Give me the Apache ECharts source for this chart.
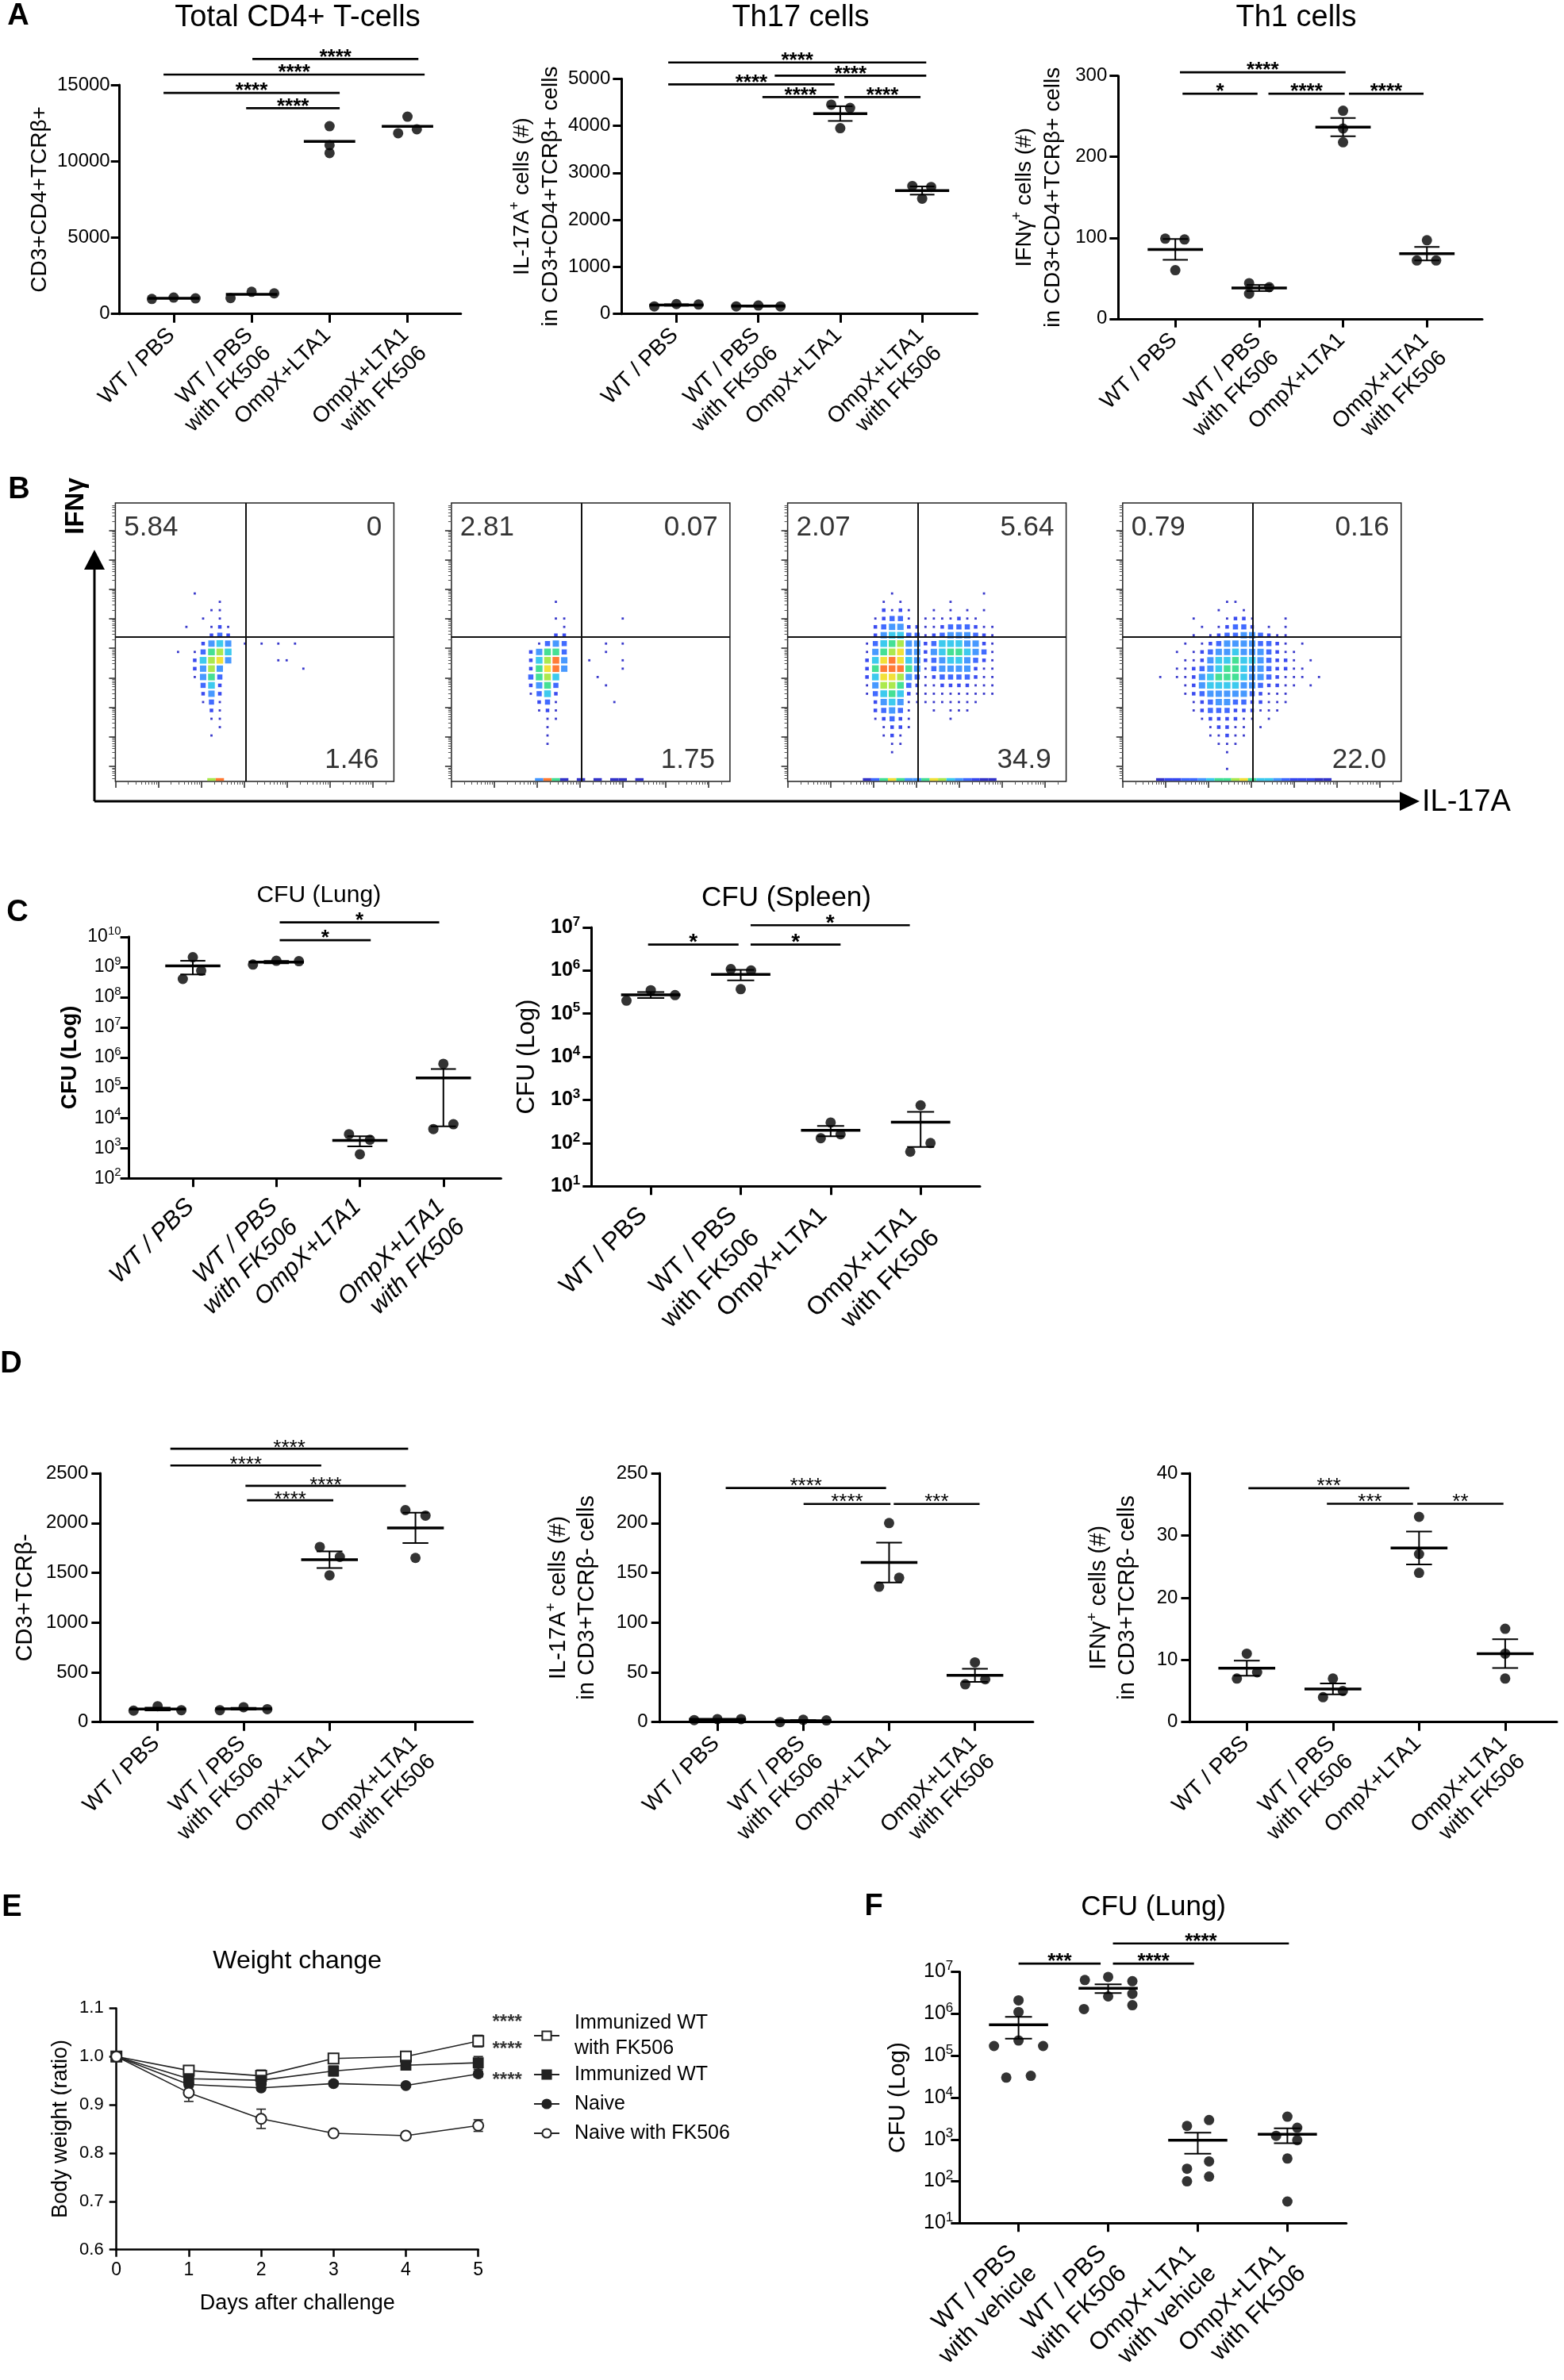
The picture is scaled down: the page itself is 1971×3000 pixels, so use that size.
<!DOCTYPE html>
<html><head><meta charset="utf-8">
<script src="https://cdn.jsdelivr.net/npm/echarts@6/dist/echarts.min.js"></script>
<style>html,body{margin:0;padding:0;background:#fff}#main{width:1971px;height:3000px}</style>
</head><body><div id="main"></div>
<script>
// ================= DATA =================
const groupsStd = ['WT / PBS', 'WT / PBS\nwith FK506', 'OmpX+LTA1', 'OmpX+LTA1\nwith FK506'];
const groupsVeh = ['WT / PBS\nwith vehicle', 'WT / PBS\nwith FK506', 'OmpX+LTA1\nwith vehicle', 'OmpX+LTA1\nwith FK506'];

// A - Total CD4+ T-cells
const cd4Total = [[980, 1070, 1020], [1040, 1450, 1350], [12300, 11060, 10540], [11840, 12920, 12100]];
const cd4TotalSig = [[2.01, 4.14, 16700, '****'], [0.87, 4.22, 15680, '****'], [0.87, 3.13, 14480, '****'], [1.93, 3.13, 13480, '****']];
// A - Th17
const th17 = [[160, 210, 200], [160, 180, 160], [4450, 4380, 3950], [2720, 2700, 2450]];
const th17Sig = [[0.90, 4.05, 5347, '****'], [0.90, 2.93, 4880, '****'], [2.20, 4.05, 5066, '****'], [2.05, 2.98, 4611, '****'], [3.05, 3.98, 4611, '****']];
// A - Th1
const th1 = [[99, 98, 60], [44, 39, 31], [257, 235, 218], [97, 72, 72]];
const th1Sig = [[1.055, 3.03, 304.5, '****'], [1.086, 1.98, 278, '*'], [2.11, 3.02, 278, '****'], [3.07, 3.96, 278, '****']];

// C - CFU
const cfuLung = [[2.1e9, 7.5e8, 4e8], [1.2e9, 1.6e9, 1.55e9], [2.9e3, 1.9e3, 6.3e2], [6.2e5, 4.3e3, 6.2e3]];
const cfuLungSig = [[2.04, 3.95, 3.0e10, '*'], [2.04, 3.13, 7.7e9, '*']];
const cfuSpleen = [[2.0e5, 3.5e5, 2.7e5], [1.08e6, 1.0e6, 3.7e5], [300, 130, 160], [750, 63, 100]];
const cfuSpleenSig = [[0.97, 1.976, 4e6, '*'], [2.11, 3.88, 1.12e7, '*'], [2.11, 3.11, 4e6, '*']];

// D - CD3+TCRb- cells
const cd3TcrNeg = [[115, 160, 120], [120, 150, 130], [1760, 1660, 1475], [2130, 2075, 1650]];
const cd3TcrNegSig = [[1.148, 3.915, 2747, '****'], [1.148, 2.904, 2579, '****'], [2.022, 3.888, 2374, '****'], [2.04, 3.044, 2229, '****']];
const il17Neg = [[2, 3, 3], [0, 2.3, 1.7], [200, 145, 136], [60, 38, 43]];
const il17NegSig = [[1.097, 2.965, 235.2, '****'], [2.004, 3.016, 219.2, '****'], [3.054, 4.054, 219.2, '***']];
const ifngNeg = [[11, 7, 8], [7, 4, 5], [33, 27, 24], [15, 11, 7]];
const ifngNegSig = [[1.019, 2.887, 37.6, '***'], [1.93, 2.93, 35.1, '***'], [2.98, 3.98, 35.1, '**']];

// F - CFU lung (vehicle / FK506)
const cfuLungF = [[2.1e6, 1.1e6, 1.7e5, 1.7e5, 2.3e5, 3.0e4, 3.3e4],
                  [6.4e6, 7.6e6, 6.0e6, 2.6e6, 1.3e6, 3.0e6, 1.6e6],
                  [2100, 2900, 200, 130, 100, 300],
                  [3500, 1220, 1900, 960, 350, 33]];
const cfuLungFSig = [[1.0, 1.916, 1.58e7, '***'], [2.053, 2.958, 1.58e7, '****'], [2.053, 4.017, 4.77e7, '****']];

// E - weight change
const weightDays = [0, 1, 2, 3, 4, 5];
const weightImmFK = [1.000, 0.971, 0.960, 0.996, 1.000, 1.032];
const weightImmFKSem = [0, 0.006, 0.012, 0.010, 0.008, 0.012];
const weightImm = [1.000, 0.954, 0.951, 0.970, 0.982, 0.987];
const weightImmSem = [0, 0.006, 0.006, 0.010, 0.005, 0.013];
const weightNaive = [1.000, 0.942, 0.935, 0.944, 0.940, 0.964];
const weightNaiveSem = [0, 0.005, 0.005, 0.005, 0.004, 0.006];
const weightNaiveFK = [1.000, 0.925, 0.871, 0.841, 0.836, 0.857];
const weightNaiveFKSem = [0, 0.018, 0.020, 0.005, 0.006, 0.012];
const weightSigLabels = ['****', '****', '****'];
const weightSigY = [1.071, 1.015, 0.951];

// B - flow cytometry: quadrant percentages (UL, UR, LR) and density rows (levels 0-9, 3-unit cells)
const flowQuadrantLabels = [['5.84', '0', '1.46'], ['2.81', '0.07', '1.75'], ['2.07', '5.64', '34.9'], ['0.79', '0.16', '22.0']];
const flow1Origin = [21, 66];
const flow1Rows = [
  '..1..............', '.....1...........', '....11...........', '...1.1...........',
  '.1..121..........', '....232..........', '...2454.1.1.1.1..', '1.13675..........',
  '..25784.....11...', '..2474.........1.', '..1463...........', '...352...........',
  '...242...........', '...131...........', '....21...........', '....11...........',
  '.....1...........', '....1............', '.................'];
const flow1AxisRow = '....79...........';
const flow2Origin = [21, 66];
const flow2Rows = [
  '.................', '.....1...........', '.................', '.....11......1...',
  '......1..........', '.....22..........', '...1343....1.1...', '..24663....1.....',
  '..25794..1...1...', '..26894......1...', '..3675....1......', '..2463.....1.....',
  '..1352...........', '...231......1....', '...121...........', '....11...........',
  '....1............', '....1............', '....1............'];
const flow2AxisRow = '...4961.1.1.11.1.';
const flow3Origin = [24, 66];
const flow3Rows = [
  '....1..........1..', '...1.1.....1......', '...2121..1.1.1.1..', '..12331.1111211...',
  '..234422112333211.', '..245533123444321.', '.1356744235554421.', '.1467844245665431.',
  '.2589854234554321.', '.2699964134444211.', '.2588743123333211.', '.1477632112222111.',
  '.1356521111111111.', '..2454111111111...', '..23431..1.111....', '..12321....1......',
  '...1221...........', '...121............', '....11............', '....1.............'];
const flow3AxisRow = '.1368644687543211..';
const flow4Origin = [12, 63];
const flow4Rows = [
  '........11...........', '.......1..1..........', '....1...1221...1.....', '.....1.12332.1.1.....',
  '....1.1233443211.....', '...1.12344443321.1...', '..1.1234454443211....', '...11245565543221.1..',
  '..1123456654432211...', '1.1124566654432111.1.', '...12455554432211.1..', '...1234444432111.....',
  '....123443322111.....', '....12333222111......', '.....1222211.1.......', '......12211.1........',
  '......11211..........', '.......111...........', '........1............', '.....................',
  '........1............'];
const flow4AxisRow = '122334566786554322211';

// ================= LAYOUT / STYLE =================
const FONT = '"Liberation Sans", Arial, Helvetica, sans-serif';
const INK = '#000000';
const MEAN_HALF = 0.33, CAP_HALF = 0.15;
const LAB_A = {size: 28, lh: 32, margin: 34, shift: 0.087};
const LAYOUT = {
  A1: {box: [150.7, 107.1, 430.1, 288.6], xr: [0.306, 4.685], nameGap: 74, nameSize: 28, tick: {size: 24, margin: 12}, lab: LAB_A, star: {size: 26, weight: 'bold', dy: -2}},
  A2: {box: [783.3, 99.3, 448.3, 296.4], xr: [0.33, 4.673], nameGap: 66, nameSize: 28, tick: {size: 24, margin: 14}, lab: LAB_A, star: {size: 26, weight: 'bold', dy: -2}},
  A3: {box: [1409.3, 95.7, 458.7, 306.1], xr: [0.32, 4.66], nameGap: 64, nameSize: 28, tick: {size: 24, margin: 14}, lab: LAB_A, star: {size: 26, weight: 'bold', dy: -2}},
  C1: {box: [162.6, 1180.8, 468.8, 304.5], xr: [0.236, 4.69], nameGap: 45, nameSize: 27, nameBold: true, tick: {size: 23, sup: 15, margin: 10}, lab: {size: 31, lh: 36, margin: 44, shift: 0.09, italic: true}, star: {size: 26, weight: 'bold', dy: -2}},
  C2: {box: [745.3, 1169, 489.7, 326.2], xr: [0.34, 4.66], nameGap: 63, nameSize: 31, tick: {size: 25, sup: 17, margin: 14, bold: true}, lab: {size: 32, lh: 40, margin: 46, shift: 0.04}, star: {size: 28, weight: 'bold', dy: -2}},
  D1: {box: [126.3, 1857.1, 469.3, 313.6], xr: [0.332, 4.665], nameGap: 76, nameSize: 29, tick: {size: 24, margin: 15}, lab: LAB_A, star: {size: 26, weight: 'normal', dy: 0}},
  D2: {box: [831.7, 1857.1, 470.2, 313.6], xr: [0.331, 4.677], nameGap: 74, nameSize: 29, tick: {size: 24, margin: 15}, lab: LAB_A, star: {size: 26, weight: 'normal', dy: -2}},
  D3: {box: [1499.4, 1857.1, 462.6, 313.6], xr: [0.338, 4.6], nameGap: 60, nameSize: 29, tick: {size: 24, margin: 15}, lab: LAB_A, star: {size: 26, weight: 'normal', dy: -2}},
  F:  {box: [1209.3, 2485.6, 487.4, 325.6], xr: [0.342, 4.658], nameGap: 60, nameSize: 30, tick: {size: 25, sup: 17, margin: 8}, lab: {size: 31, lh: 36, margin: 46, shift: 0.05}, star: {size: 26, weight: 'bold', dy: -2}}
};
// dot horizontal spread (beeswarm offsets in category units)
const JIT = {
  A1: [[-0.28, 0, 0.28], [-0.27, 0, 0.29], [0, 0, 0], [-0.12, 0, 0.12]],
  A2: [[-0.27, 0, 0.27], [-0.27, 0, 0.27], [-0.11, 0.12, 0], [-0.12, 0.11, 0]],
  A3: [[-0.12, 0.11, 0], [-0.12, 0.12, -0.12], [0, 0, 0], [0, -0.12, 0.11]],
  C1: [[0, 0.10, -0.12], [-0.28, 0, 0.27], [-0.13, 0.12, 0], [0, -0.12, 0.12]],
  C2: [[-0.27, 0, 0.27], [-0.11, 0.115, 0], [0, -0.11, 0.11], [0, -0.115, 0.11]],
  D1: [[-0.28, 0, 0.276], [-0.276, 0, 0.276], [-0.113, 0.12, 0], [-0.117, 0.117, 0]],
  D2: [[-0.27, 0, 0.276], [-0.27, 0, 0.27], [0, 0.117, -0.117], [0, -0.113, 0.12]],
  D3: [[0, -0.115, 0.12], [0, -0.115, 0.115], [0, 0, 0], [0, 0, 0]],
  F:  [[0, 0, -0.274, 0.274, 0, -0.137, 0.137], [-0.26, 0, 0.27, 0, -0.27, 0.27, 0.27], [-0.12, 0.126, -0.12, 0.126, -0.12, 0.126], [0, -0.126, 0.11, 0.11, 0, 0]]
};
const FLOW_LEFT = [145.4, 568.9, 992.6, 1414.8], FLOW_TOP = 634, FLOW_SIZE = 351;
const FLOW_QX = 46.7, FLOW_QY = 51.8, FLOW_CELL = 3, FLOW_AXIS_Y = 0.7;
const FLOW_LABEL_POS = [[3.1, 91.2], [95.7, 91.2], [94.6, 7.7]];
const FLOW_COLORS = ['rgba(0,0,0,0)', '#1d1dc4', '#1f32ee', '#2757ff', '#2e8bff', '#22c3ec', '#2bdc86', '#9fe636', '#f0dd1e', '#ff6a1a'];
const FLOW_SYM = [0, 2.8, 4.5, 6.5, 8, 8.5, 8.5, 8.5, 8.5, 8.5];
const FLOW_X_MAJOR = [0, 15.4, 30.8, 46.2, 61.6, 77, 92.4];
const FLOW_Y_MAJOR = [5.4, 16, 26.6, 37.2, 47.8, 58.4, 69, 79.6, 90.2];
function logMinors(majors, step) {
  const out = [];
  [majors[0] - step].concat(majors).forEach(s => {
    for (let k = 2; k <= 9; k++) { const v = s + step * Math.log10(k); if (v > 0.3 && v < 99.7) out.push(+v.toFixed(2)); }
  });
  return out;
}
const FLOW_X_MINOR = logMinors(FLOW_X_MAJOR, 15.4);
const FLOW_Y_MINOR = logMinors(FLOW_Y_MAJOR, 10.6);

// ================= BUILD =================
const grids = [], xAxes = [], yAxes = [], series = [], graphics = [];

function meanSem(vals) {
  const n = vals.length, m = vals.reduce((a, b) => a + b, 0) / n;
  const sd = Math.sqrt(vals.reduce((a, b) => a + (b - m) * (b - m), 0) / (n - 1));
  return [m, sd / Math.sqrt(n)];
}
function meanRenderer(showSem, yMin) {
  return function (params, api) {
    const x = api.value(0), m = api.value(1), hi = api.value(3);
    let lo = api.value(2);
    if (!(lo > yMin)) lo = yMin;
    const a = api.coord([x - MEAN_HALF, m]), b = api.coord([x + MEAN_HALF, m]);
    const kids = [{type: 'line', shape: {x1: a[0], y1: a[1], x2: b[0], y2: b[1]}, style: {stroke: INK, lineWidth: 3.5}}];
    if (showSem) {
      const t = api.coord([x, hi]), u = api.coord([x, lo]);
      const c1 = api.coord([x - CAP_HALF, hi]), c2 = api.coord([x + CAP_HALF, hi]);
      const d1 = api.coord([x - CAP_HALF, lo]), d2 = api.coord([x + CAP_HALF, lo]);
      kids.push({type: 'line', shape: {x1: t[0], y1: t[1], x2: u[0], y2: u[1]}, style: {stroke: INK, lineWidth: 2}});
      kids.push({type: 'line', shape: {x1: c1[0], y1: c1[1], x2: c2[0], y2: c2[1]}, style: {stroke: INK, lineWidth: 2}});
      kids.push({type: 'line', shape: {x1: d1[0], y1: d1[1], x2: d2[0], y2: d2[1]}, style: {stroke: INK, lineWidth: 2}});
    }
    return {type: 'group', children: kids};
  };
}
function sigRenderer(sig, st) {
  return function (params, api) {
    const x1 = api.value(0), x2 = api.value(1), y = api.value(2);
    const a = api.coord([x1, y]), b = api.coord([x2, y]);
    const cx = (a[0] + b[0]) / 2, cy = a[1] + st.dy;
    return {type: 'group', children: [
      {type: 'line', shape: {x1: a[0], y1: a[1], x2: b[0], y2: a[1]}, style: {stroke: INK, lineWidth: 2.6}},
      {type: 'text', x: cx, y: cy, style: {text: sig[params.dataIndex][3], x: 0, y: 0, fill: INK,
        font: st.weight + ' ' + st.size + 'px ' + FONT, textAlign: 'center', textVerticalAlign: 'middle', align: 'center', verticalAlign: 'middle'}}
    ]};
  };
}

function addDotPanel(d, L, jit) {
  const gi = grids.length;
  grids.push({left: L.box[0], top: L.box[1], width: L.box[2], height: L.box[3]});
  const xi = xAxes.length, yi = yAxes.length;
  const ticks = [1, 2, 3, 4];
  xAxes.push({
    gridIndex: gi, type: 'value', position: 'bottom', min: L.xr[0], max: L.xr[1],
    axisLine: {show: true, onZero: false, lineStyle: {color: INK, width: 3}},
    axisTick: {show: true, customValues: ticks, length: 11, lineStyle: {color: INK, width: 3}},
    axisLabel: {show: true, customValues: ticks.map(t => t + L.lab.shift), rotate: 45, margin: L.lab.margin,
      fontFamily: FONT, fontSize: L.lab.size, fontStyle: L.lab.italic ? 'italic' : 'normal', color: INK, lineHeight: L.lab.lh,
      formatter: function (v) { const t = d.cats[Math.round(v) - 1] || ''; return t.indexOf('\n') >= 0 ? t : t + '\n '; }},
    splitLine: {show: false}
  });
  const yAx = {
    gridIndex: gi, type: d.log ? 'log' : 'value', position: 'left', min: d.yr[0], max: d.yr[1],
    axisLine: {show: true, onZero: false, lineStyle: {color: INK, width: 3}},
    axisTick: {show: true, length: 11, lineStyle: {color: INK, width: 3}},
    axisLabel: {margin: L.tick.margin, fontFamily: FONT, fontSize: L.tick.size, fontWeight: L.tick.bold ? 'bold' : 'normal', color: INK},
    splitLine: {show: false},
    name: d.yName, nameLocation: 'middle', nameRotate: 90, nameGap: L.nameGap,
    nameTextStyle: {fontFamily: FONT, fontSize: L.nameSize, fontWeight: L.nameBold ? 'bold' : 'normal', color: INK, lineHeight: 36,
      rich: {sup: {fontFamily: FONT, fontSize: Math.round(L.nameSize * 0.65), lineHeight: 18, verticalAlign: 'top', color: INK}}}
  };
  if (d.log) {
    yAx.logBase = 10; yAx.splitNumber = 10;
    yAx.axisLabel.formatter = function (v) { return '{b|10}{s|' + Math.round(Math.log10(v)) + '}'; };
    const w = L.tick.bold ? 'bold' : 'normal';
    yAx.axisLabel.rich = {
      b: {fontFamily: FONT, fontSize: L.tick.size, fontWeight: w, color: INK, lineHeight: L.tick.size + 6},
      s: {fontFamily: FONT, fontSize: L.tick.sup, fontWeight: w, color: INK, lineHeight: L.tick.sup, verticalAlign: 'top'}
    };
  } else {
    yAx.interval = d.yInt;
    yAx.axisLabel.formatter = function (v) { return String(v); };
  }
  yAxes.push(yAx);
  const pts = [];
  d.values.forEach((g, i) => g.forEach((v, j) => pts.push([i + 1 + jit[i][j], v])));
  series.push({type: 'scatter', xAxisIndex: xi, yAxisIndex: yi, data: pts, symbolSize: 13, itemStyle: {color: INK}, clip: false, silent: true, z: 3});
  const stats = d.values.map((g, i) => { const ms = meanSem(g); return [i + 1, ms[0], ms[0] - ms[1], ms[0] + ms[1]]; });
  series.push({type: 'custom', xAxisIndex: xi, yAxisIndex: yi, data: stats, clip: false, silent: true, z: 4, encode: {x: 0, y: 1},
    renderItem: meanRenderer(d.showSem !== false, d.yr[0])});
  series.push({type: 'custom', xAxisIndex: xi, yAxisIndex: yi, data: d.sig.map(s => [s[0], s[1], s[2]]), clip: false, silent: true, z: 5,
    encode: {x: 0, y: 2}, renderItem: sigRenderer(d.sig, L.star)});
}

function densityPoints(origin, rows) {
  const pts = [];
  rows.forEach((row, r) => {
    for (let c = 0; c < row.length; c++) {
      const ch = row[c];
      if (ch === '.') continue;
      pts.push([origin[0] + c * FLOW_CELL + FLOW_CELL / 2, origin[1] - r * FLOW_CELL + FLOW_CELL / 2, +ch]);
    }
  });
  return pts;
}
function axisRowPoints(origin, row) {
  const pts = [];
  for (let c = 0; c < row.length; c++) {
    if (row[c] === '.') continue;
    pts.push([origin[0] + c * FLOW_CELL + FLOW_CELL / 2, FLOW_AXIS_Y, +row[c]]);
  }
  return pts;
}

function addFlowPanel(k, origin, rows, axisRow, labels) {
  const gi = grids.length;
  grids.push({left: FLOW_LEFT[k], top: FLOW_TOP, width: FLOW_SIZE, height: FLOW_SIZE, show: true, borderColor: '#222', borderWidth: 1.5, backgroundColor: 'rgba(0,0,0,0)'});
  const xi = xAxes.length, yi = yAxes.length;
  const base = () => ({gridIndex: gi, type: 'value', min: 0, max: 100, axisLine: {show: false}, axisLabel: {show: false}, splitLine: {show: false}});
  xAxes.push(Object.assign(base(), {position: 'bottom', axisTick: {show: true, customValues: FLOW_X_MAJOR, length: 8, lineStyle: {color: '#333', width: 1.6}}}));
  xAxes.push(Object.assign(base(), {position: 'bottom', axisTick: {show: true, customValues: FLOW_X_MINOR, length: 4, lineStyle: {color: '#555', width: 1}}}));
  yAxes.push(Object.assign(base(), {position: 'left', axisTick: {show: true, customValues: FLOW_Y_MAJOR, length: 8, lineStyle: {color: '#333', width: 1.6}}}));
  yAxes.push(Object.assign(base(), {position: 'left', axisTick: {show: true, customValues: FLOW_Y_MINOR, length: 4, lineStyle: {color: '#555', width: 1}}}));
  series.push({type: 'scatter', xAxisIndex: xi, yAxisIndex: yi, data: densityPoints(origin, rows), symbol: 'rect',
    symbolSize: v => FLOW_SYM[v[2]], itemStyle: {color: p => FLOW_COLORS[p.value[2]], opacity: 0.88}, silent: true, z: 2,
    markLine: {silent: true, symbol: ['none', 'none'], label: {show: false}, lineStyle: {color: '#111', width: 2, type: 'solid'},
      data: [{xAxis: FLOW_QX}, {yAxis: FLOW_QY}]}});
  series.push({type: 'scatter', xAxisIndex: xi, yAxisIndex: yi, data: axisRowPoints(origin, axisRow), symbol: 'rect',
    symbolSize: [10.5, 3.5], itemStyle: {color: p => FLOW_COLORS[p.value[2]], opacity: 0.9}, silent: true, z: 2, clip: false});
  series.push({type: 'scatter', xAxisIndex: xi, yAxisIndex: yi, symbolSize: 0.01, silent: true, z: 6, itemStyle: {color: 'rgba(0,0,0,0)'},
    data: FLOW_LABEL_POS.map((pos, i) => ({value: pos, label: {show: true, position: i === 0 ? 'right' : 'left', distance: 0,
      formatter: labels[i], fontFamily: FONT, fontSize: 35, color: INK}}))});
}

// ---- A
addDotPanel({cats: groupsStd, values: cd4Total, sig: cd4TotalSig, yr: [0, 15000], yInt: 5000, yName: 'CD3+CD4+TCRβ+', showSem: false}, LAYOUT.A1, JIT.A1);
addDotPanel({cats: groupsStd, values: th17, sig: th17Sig, yr: [0, 5000], yInt: 1000, yName: 'IL-17A{sup|+} cells (#)\nin CD3+CD4+TCRβ+ cells'}, LAYOUT.A2, JIT.A2);
addDotPanel({cats: groupsStd, values: th1, sig: th1Sig, yr: [0, 300], yInt: 100, yName: 'IFNγ{sup|+} cells (#)\nin CD3+CD4+TCRβ+ cells'}, LAYOUT.A3, JIT.A3);
// ---- B
addFlowPanel(0, flow1Origin, flow1Rows, flow1AxisRow, flowQuadrantLabels[0]);
addFlowPanel(1, flow2Origin, flow2Rows, flow2AxisRow, flowQuadrantLabels[1]);
addFlowPanel(2, flow3Origin, flow3Rows, flow3AxisRow, flowQuadrantLabels[2]);
addFlowPanel(3, flow4Origin, flow4Rows, flow4AxisRow, flowQuadrantLabels[3]);
// ---- C
addDotPanel({cats: groupsStd, values: cfuLung, sig: cfuLungSig, log: true, yr: [1e2, 1e10], yName: 'CFU (Log)'}, LAYOUT.C1, JIT.C1);
addDotPanel({cats: groupsStd, values: cfuSpleen, sig: cfuSpleenSig, log: true, yr: [1e1, 1e7], yName: 'CFU (Log)'}, LAYOUT.C2, JIT.C2);
// ---- D
addDotPanel({cats: groupsStd, values: cd3TcrNeg, sig: cd3TcrNegSig, yr: [0, 2500], yInt: 500, yName: 'CD3+TCRβ-'}, LAYOUT.D1, JIT.D1);
addDotPanel({cats: groupsStd, values: il17Neg, sig: il17NegSig, yr: [0, 250], yInt: 50, yName: 'IL-17A{sup|+} cells (#)\nin CD3+TCRβ- cells'}, LAYOUT.D2, JIT.D2);
addDotPanel({cats: groupsStd, values: ifngNeg, sig: ifngNegSig, yr: [0, 40], yInt: 10, yName: 'IFNγ{sup|+} cells (#)\nin CD3+TCRβ- cells'}, LAYOUT.D3, JIT.D3);
// ---- F
addDotPanel({cats: groupsVeh, values: cfuLungF, sig: cfuLungFSig, log: true, yr: [1e1, 1e7], yName: 'CFU (Log)'}, LAYOUT.F, JIT.F);

// ---- E weight change
(function () {
  const gi = grids.length;
  grids.push({left: 146.7, top: 2531.4, width: 456, height: 304.3});
  const xi = xAxes.length, yi = yAxes.length;
  xAxes.push({gridIndex: gi, type: 'value', position: 'bottom', min: 0, max: 5, interval: 1,
    axisLine: {show: true, onZero: false, lineStyle: {color: INK, width: 2.5}},
    axisTick: {show: true, length: 9, lineStyle: {color: INK, width: 2.5}},
    axisLabel: {margin: 14, fontFamily: FONT, fontSize: 23, color: INK}, splitLine: {show: false},
    name: 'Days after challenge', nameLocation: 'middle', nameGap: 54, nameTextStyle: {fontFamily: FONT, fontSize: 27, color: INK}});
  yAxes.push({gridIndex: gi, type: 'value', position: 'left', min: 0.6, max: 1.1, interval: 0.1,
    axisLine: {show: true, onZero: false, lineStyle: {color: INK, width: 2.5}},
    axisTick: {show: true, length: 9, lineStyle: {color: INK, width: 2.5}},
    axisLabel: {margin: 16, fontFamily: FONT, fontSize: 22, color: INK, formatter: v => v.toFixed(1)}, splitLine: {show: false},
    name: 'Body weight (ratio)', nameLocation: 'middle', nameRotate: 90, nameGap: 52, nameTextStyle: {fontFamily: FONT, fontSize: 27, color: INK, lineHeight: 36}});
  const defs = [
    {name: 'Immunized WT\nwith FK506', vals: weightImmFK, sem: weightImmFKSem, symbol: 'emptyRect', size: 13},
    {name: 'Immunized WT', vals: weightImm, sem: weightImmSem, symbol: 'rect', size: 12},
    {name: 'Naive', vals: weightNaive, sem: weightNaiveSem, symbol: 'circle', size: 12},
    {name: 'Naive with FK506', vals: weightNaiveFK, sem: weightNaiveFKSem, symbol: 'emptyCircle', size: 13}
  ];
  const errs = [];
  defs.forEach(s => {
    s.vals.forEach((v, i) => errs.push([weightDays[i], v, s.sem[i]]));
    series.push({type: 'line', name: s.name, xAxisIndex: xi, yAxisIndex: yi, data: weightDays.map((d, i) => [d, s.vals[i]]),
      symbol: s.symbol, symbolSize: s.size, showAllSymbol: true, clip: false, z: 4,
      lineStyle: {color: '#222', width: 1.6}, itemStyle: {color: '#222', borderColor: '#222', borderWidth: 1.8}});
  });
  series.push({type: 'custom', xAxisIndex: xi, yAxisIndex: yi, data: errs, clip: false, silent: true, z: 3, encode: {x: 0, y: 1},
    renderItem: function (params, api) {
      const x = api.value(0), m = api.value(1), s = api.value(2);
      if (!(s > 0)) return null;
      const t = api.coord([x, m + s]), u = api.coord([x, m - s]);
      return {type: 'group', children: [
        {type: 'line', shape: {x1: t[0], y1: t[1], x2: u[0], y2: u[1]}, style: {stroke: '#222', lineWidth: 1.6}},
        {type: 'line', shape: {x1: t[0] - 6, y1: t[1], x2: t[0] + 6, y2: t[1]}, style: {stroke: '#222', lineWidth: 1.6}},
        {type: 'line', shape: {x1: u[0] - 6, y1: u[1], x2: u[0] + 6, y2: u[1]}, style: {stroke: '#222', lineWidth: 1.6}}
      ]};
    }});
  series.push({type: 'scatter', xAxisIndex: xi, yAxisIndex: yi, symbolSize: 0.01, silent: true, clip: false, z: 6,
    itemStyle: {color: 'rgba(0,0,0,0)'},
    data: weightSigY.map(y => [5.4, y]),
    label: {show: true, position: 'inside', formatter: p => weightSigLabels[p.dataIndex], fontFamily: FONT, fontSize: 24, fontWeight: 'bold', color: INK}});
})();

// ---- graphics: panel letters, titles, flow arrows
function gtext(text, x, y, size, o) {
  o = o || {};
  return {type: 'text', x: x, y: y, rotation: o.rot || 0, z: 50,
    style: {text: text, font: (o.weight || 'normal') + ' ' + size + 'px ' + FONT, fill: INK,
      textAlign: o.align || 'center', textVerticalAlign: 'middle', align: o.align || 'center', verticalAlign: 'middle'}};
}
graphics.push(
  gtext('A', 23, 21, 38, {weight: 'bold'}), gtext('B', 24, 618, 38, {weight: 'bold'}), gtext('C', 22, 1151, 38, {weight: 'bold'}),
  gtext('D', 14, 1720, 38, {weight: 'bold'}), gtext('E', 15, 2405, 38, {weight: 'bold'}), gtext('F', 1101, 2404, 38, {weight: 'bold'}),
  gtext('Total CD4+ T-cells', 375, 23, 38), gtext('Th17 cells', 1009, 23, 38), gtext('Th1 cells', 1633.5, 23, 38),
  gtext('CFU (Lung)', 401.8, 1129, 30), gtext('CFU (Spleen)', 991, 1132, 35), gtext('Weight change', 374.7, 2472, 32),
  gtext('CFU (Lung)', 1453.6, 2404, 35),
  gtext('IFNγ', 96, 638, 33, {weight: 'bold', rot: Math.PI / 2}),
  gtext('IL-17A', 1792, 1012, 38, {align: 'left'}),
  {type: 'polyline', z: 50, shape: {points: [[119, 1010], [119, 716]]}, style: {stroke: INK, lineWidth: 3, fill: null}},
  {type: 'polygon', z: 50, shape: {points: [[106, 718], [132, 718], [119, 693]]}, style: {fill: INK}},
  {type: 'polyline', z: 50, shape: {points: [[119, 1010], [1766, 1010]]}, style: {stroke: INK, lineWidth: 3, fill: null}},
  {type: 'polygon', z: 50, shape: {points: [[1764, 998], [1764, 1022], [1789, 1010]]}, style: {fill: INK}}
);

const legendText = {fontFamily: FONT, fontSize: 25, color: INK, lineHeight: 32, padding: [0, 0, 0, 14]};
const chart = echarts.init(document.getElementById('main'), null, {renderer: 'canvas', width: 1971, height: 3000});
chart.setOption({
  animation: false,
  backgroundColor: '#ffffff',
  textStyle: {fontFamily: FONT, color: INK},
  grid: grids, xAxis: xAxes, yAxis: yAxes, series: series,
  legend: [
    {orient: 'vertical', left: 672, top: 2518, padding: 0, itemWidth: 32, itemHeight: 14, textStyle: legendText,
      data: [{name: 'Immunized WT\nwith FK506', textStyle: {padding: [32, 0, 0, 14]}}]},
    {orient: 'vertical', left: 672, top: 2599, padding: 0, itemWidth: 32, itemHeight: 14, itemGap: 5, textStyle: legendText,
      data: ['Immunized WT', 'Naive', 'Naive with FK506']}
  ],
  graphic: {elements: graphics}
});
</script></body></html>
